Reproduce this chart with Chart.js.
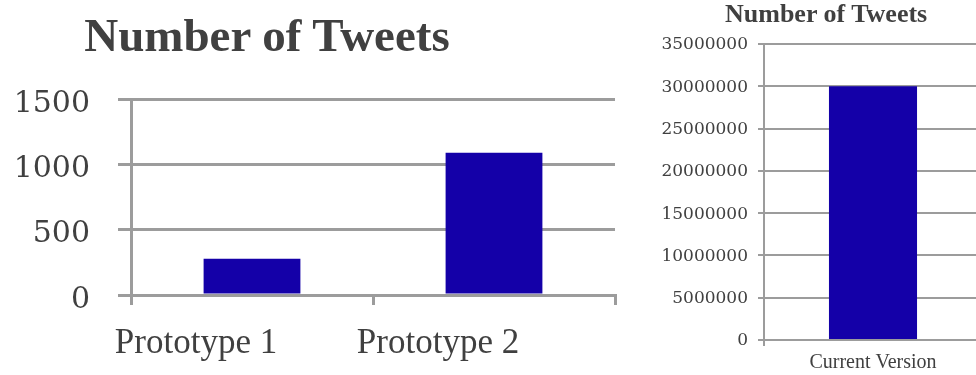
<!DOCTYPE html>
<html>
<head>
<meta charset="utf-8">
<script src="https://cdn.jsdelivr.net/npm/chart.js@4/dist/chart.umd.min.js"></script>
<style>
  body { margin: 0; background: #fff; overflow: hidden; width: 976px; height: 375px; position: relative; }
  .box { position: absolute; top: 0; height: 375px; }
  #left { left: 0; width: 620px; }
  #right { left: 620px; width: 370px; }
  .title { position: absolute; font-family: 'Liberation Serif', serif; font-weight: bold; color: #404040; text-align: center; white-space: nowrap; line-height: normal; }
  #leftTitle { left: 67px; width: 400px; top: 8px; font-size: 47px; }
  #rightTitle { left: 725px; width: 200px; top: -1px; font-size: 26px; }
</style>
</head>
<body>
<div class="box" id="left"><canvas id="protoChart"></canvas></div>
<div class="box" id="right"><canvas id="currentChart"></canvas></div>
<div class="title" id="leftTitle">Number of Tweets</div>
<div class="title" id="rightTitle">Number of Tweets</div>
<script>
// left chart: prototypes
const protoLabels = ['Prototype 1', 'Prototype 2'];
const protoTweets = [278, 1088];
const protoTicks = [0, 500, 1000, 1500];

// right chart: current version
const currentLabels = ['Current Version'];
const currentTweets = [30000000];
const currentTicks = [0, 5000000, 10000000, 15000000, 20000000, 25000000, 30000000, 35000000];

const barColor = '#1400a8';
const gridColor = '#9c9c9c';
const textColor = '#404040';

Chart.defaults.animation = false;
Chart.defaults.plugins.legend.display = false;
Chart.defaults.plugins.tooltip.enabled = false;

function makeChart(id, labels, values, yTicks, opts) {
  return new Chart(document.getElementById(id), {
    type: 'bar',
    data: {
      labels: labels,
      datasets: [{
        data: values,
        backgroundColor: barColor,
        borderWidth: 0,
        barPercentage: opts.barPct,
        categoryPercentage: 1
      }]
    },
    options: {
      responsive: true,
      maintainAspectRatio: false,
      layout: { padding: opts.padding },
      scales: {
        x: {
          afterFit: (axis) => { axis.height = opts.xHeight; },
          grid: {
            offset: true,
            drawOnChartArea: false,
            color: gridColor,
            lineWidth: opts.line,
            tickLength: opts.xTick
          },
          border: { color: gridColor, width: opts.line },
          ticks: {
            color: textColor,
            font: { family: 'Liberation Serif', size: opts.xFont },
            padding: opts.xPad,
            labelOffset: opts.xOffset
          }
        },
        y: {
          min: 0,
          max: yTicks[yTicks.length - 1],
          afterBuildTicks: (axis) => { axis.ticks = yTicks.map((v) => ({ value: v })); },
          afterFit: (axis) => { axis.width = opts.yWidth; },
          grid: {
            color: gridColor,
            lineWidth: opts.line,
            tickLength: opts.yTick
          },
          border: { color: gridColor, width: opts.line },
          ticks: {
            color: textColor,
            font: { family: 'DejaVu Serif', size: opts.yFont },
            padding: opts.yPad,
            labelOffset: opts.yOffset,
            callback: (v) => String(v)
          }
        }
      }
    }
  });
}

makeChart('protoChart', protoLabels, protoTweets, protoTicks, {
  barPct: 0.4,
  padding: { left: 0, right: 5, top: 99, bottom: 0 },
  xHeight: 80,
  yWidth: 131,
  line: 3,
  xTick: 10,
  xFont: 35,
  xPad: 18,
  xOffset: -56,
  yTick: 13,
  yFont: 30,
  yPad: 28,
  yOffset: 5
});

makeChart('currentChart', currentLabels, currentTweets, currentTicks, {
  barPct: 0.404,
  padding: { left: 0, right: 8, top: 44, bottom: 0 },
  xHeight: 35,
  yWidth: 144,
  line: 2,
  xTick: 6,
  xFont: 20,
  xPad: 5,
  xOffset: 0,
  yTick: 6,
  yFont: 17,
  yPad: 10,
  yOffset: 1
});
</script>
</body>
</html>
